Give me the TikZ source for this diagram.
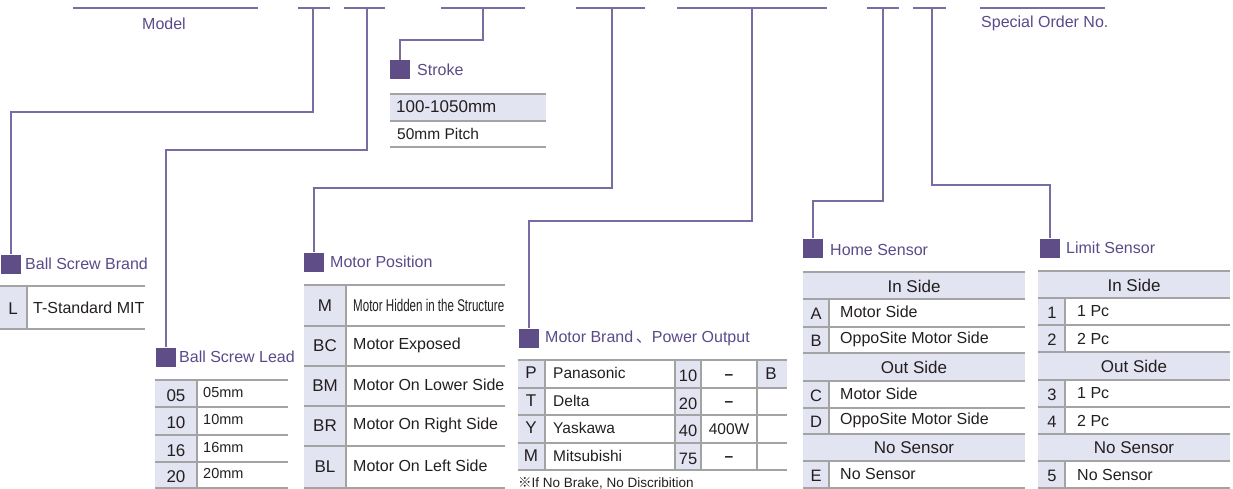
\documentclass[tikz,border=0pt]{standalone}
\usepackage{fontspec}
\setmainfont{Liberation Sans}
\newfontfamily\cjkf{Noto Sans CJK SC}
\definecolor{pline}{HTML}{7A6BA4}
\definecolor{psq}{HTML}{5E4D87}
\definecolor{ptxt}{HTML}{5B4A8A}
\definecolor{cellbg}{HTML}{E3E4F2}
\definecolor{gridc}{HTML}{A3A3A3}
\definecolor{ink}{HTML}{231F20}
\newcommand{\fs}[1]{\fontsize{#1}{#1}\selectfont}
\newcommand{\dsh}{\textbf{--}}
\tikzset{
  conn/.style={draw=pline, line width=1.4pt},
  topseg/.style={draw=pline, line width=1.3pt},
  sq/.style={fill=psq, minimum width=20pt, minimum height=19pt, inner sep=0pt},
  head/.style={text=ptxt, anchor=west, inner sep=0pt, font=\fs{16}},
  gline/.style={draw=gridc, line width=1.3pt},
  vline/.style={draw=gridc, line width=1.1pt},
  code/.style={text=ink, inner sep=0pt, font=\fs{17}},
  desc/.style={text=ink, anchor=west, inner sep=0pt, font=\fs{16}},
}
\begin{document}
\begin{tikzpicture}[x=1pt,y=-1pt]
\useasboundingbox (0,0) rectangle (1233,489);
% ---------- top model line ----------
\draw[topseg] (73,8) -- (258,8);
\node[text=ptxt, font=\fs{16}] (model) at (164,24) {Model};
\draw[topseg] (298,8) -- (330,8);
\draw[topseg] (344,8) -- (385,8);
\draw[topseg] (441,8) -- (525,8);
\draw[topseg] (576,8) -- (645,8);
\draw[topseg] (677,8) -- (827,8);
\draw[topseg] (867,8) -- (899,8);
\draw[topseg] (913,8) -- (946,8);
\draw[topseg] (980,8) -- (1105,8);
\node[head] (special) at (981,23) {Special Order No.};
\coordinate (s2) at (313,8);
\coordinate (s3) at (367,8);
\coordinate (s4) at (483,8);
\coordinate (s5) at (612,8);
\coordinate (s6) at (752,8);
\coordinate (s7) at (883,8);
\coordinate (s8) at (932,8);
% ---------- squares and headings ----------
\node[sq] (bsb) at (11,264) {};
\node[head] (bsbt) at (25,264) {Ball Screw Brand};
\node[sq] (bsl) at (166,357) {};
\node[head] (bslt) at (179,357) {Ball Screw Lead};
\node[sq] (str) at (400,70) {};
\node[head] (strt) at (417,70) {Stroke};
\node[sq] (mp) at (314,262) {};
\node[head] (mpt) at (330,262) {Motor Position};
\node[sq] (mb) at (529,338) {};
\node[head] (mbt) at (545,338) {Motor Brand\,{\cjkf 、}Power Output};
\node[sq] (hs) at (813,248) {};
\node[head] (hst) at (830,250) {Home Sensor};
\node[sq] (ls) at (1050,248) {};
\node[head] (lst) at (1066,248) {Limit Sensor};
% ---------- connectors ----------
\draw[conn] (s2) -- ++(0,104) -| (bsb.north);
\draw[conn] (s3) -- ++(0,142) -| (bsl.north);
\draw[conn] (s4) -- ++(0,32) -| (str.north);
\draw[conn] (s5) -- ++(0,180) -| (mp.north);
\draw[conn] (s6) -- ++(0,213) -| (mb.north);
\draw[conn] (s7) -- ++(0,193) -| (hs.north);
\draw[conn] (s8) -- ++(0,177) -| (ls.north);
% ---------- Stroke table ----------
\fill[cellbg] (390,94) rectangle (546,121);
\draw[gline] (390,94) -- (546,94);
\draw[gline] (390,121) -- (546,121);
\draw[gline] (390,147) -- (546,147);
\node[desc, font=\fs{17}] (st1) at (396,107) {100-1050mm};
\node[desc, font=\fs{15.5}] (st2) at (397,134) {50mm Pitch};
% ---------- Ball Screw Brand table ----------
\fill[cellbg] (0,286) rectangle (27,329);
\draw[vline] (27,286) -- (27,329);
\draw[gline] (0,286) -- (145,286);
\draw[gline] (0,329) -- (145,329);
\node[code] (bL) at (13,309) {L};
\node[desc] (bLt) at (33,308) {T-Standard MIT};
% ---------- Ball Screw Lead table ----------
\fill[cellbg] (155,380) rectangle (197,488);
\draw[vline] (197,380) -- (197,488);
\foreach \y in {380,407,435,462,488} \draw[gline] (155,\y) -- (288,\y);
\foreach \c/\t/\y in {05/05mm/393.5,10/10mm/421,16/16mm/448.5,20/20mm/475}{
  \node[code] at (176,\y+2) {\c};
  \node[desc, font=\fs{14.5}] at (203,\y-1) {\t};
}
% ---------- Motor Position table ----------
\fill[cellbg] (304,285) rectangle (346,488);
\draw[vline] (346,285) -- (346,488);
\foreach \y in {285,326,366,406,446,488} \draw[gline] (304,\y) -- (505,\y);
\node[code] (mpM) at (325,306) {M};
\node[desc, font=\fs{17}] (mpMt) at (353,305.5) {\scalebox{0.68}[1]{Motor Hidden in the Structure}};
\foreach \c/\t/\y in {BC/Motor Exposed/346,BM/Motor On Lower Side/386,BR/Motor On Right Side/426,BL/Motor On Left Side/467}{
  \node[code] at (325,\y) {\c};
  \node[desc] at (353,\y-1) {\t};
}
% ---------- Motor Brand table ----------
\fill[cellbg] (518,360) rectangle (545,470);
\fill[cellbg] (675,360) rectangle (701,470);
\fill[cellbg] (757,360) rectangle (787,388);
\foreach \x in {545,675,701,757} \draw[vline] (\x,360) -- (\x,470);
\foreach \y in {360,388,415,443,470} \draw[gline] (518,\y) -- (787,\y);
\foreach \c/\t/\n/\y in {P/Panasonic/10/374,T/Delta/20/401.5,Y/Yaskawa/40/429,M/Mitsubishi/75/456.5}{
  \node[code] at (531,\y-1) {\c};
  \node[desc, font=\fs{15.5}] at (553,\y-1) {\t};
  \node[code, font=\fs{16.5}] at (688,\y+2) {\n};
}
\node[code, font=\fs{15.5}] (pw1) at (729,377) {\dsh};
\node[code, font=\fs{15.5}] (pw2) at (729,404) {\dsh};
\node[code, font=\fs{15.5}] (pw3) at (729,429) {400W};
\node[code, font=\fs{15.5}] (pw4) at (729,459) {\dsh};
\node[code] (mbB) at (771,374) {B};
\node[anchor=west, inner sep=0pt, text=ink, font=\fs{13.5}] (note) at (518,483) {{\cjkf ※}If No Brake, No Discribition};
% ---------- Home Sensor table ----------
\foreach \a/\b in {272/299,353/381,434/461} \fill[cellbg] (803,\a) rectangle (1025,\b);
\foreach \a/\b in {299/353,381/434,461/488} {
  \fill[cellbg] (803,\a) rectangle (829,\b);
  \draw[vline] (829,\a) -- (829,\b);
}
\foreach \y in {272,299,327,353,381,408,434,461,488} \draw[gline] (803,\y) -- (1025,\y);
\node[code] (hsh1) at (914,286) {In Side};
\node[code] (hsh2) at (914,367) {Out Side};
\node[code] (hsh3) at (914,447.5) {No Sensor};
\foreach \c/\t/\y in {A/Motor Side/313,B/OppoSite Motor Side/340,C/Motor Side/394.5,D/OppoSite Motor Side/421,E/No Sensor/474.5}{
  \node[code, font=\fs{16.5}] at (816,\y+1) {\c};
  \node[desc] at (840,\y-1) {\t};
}
% ---------- Limit Sensor table ----------
\foreach \a/\b in {271/298,352/380,434/461} \fill[cellbg] (1038,\a) rectangle (1230,\b);
\foreach \a/\b in {298/352,380/434,461/488} {
  \fill[cellbg] (1038,\a) rectangle (1065,\b);
  \draw[vline] (1065,\a) -- (1065,\b);
}
\foreach \y in {271,298,325,352,380,407,434,461,488} \draw[gline] (1038,\y) -- (1230,\y);
\node[code] (lsh1) at (1134,285) {In Side};
\node[code] (lsh2) at (1134,366) {Out Side};
\node[code] (lsh3) at (1134,447.5) {No Sensor};
\foreach \c/\t/\y in {1/1 Pc/311.5,2/2 Pc/338.5,3/1 Pc/393.5,4/2 Pc/420.5,5/No Sensor/474.5}{
  \node[code, font=\fs{16.5}] at (1052,\y+1) {\c};
  \node[desc] at (1077,\y) {\t};
}
\end{tikzpicture}
\end{document}
